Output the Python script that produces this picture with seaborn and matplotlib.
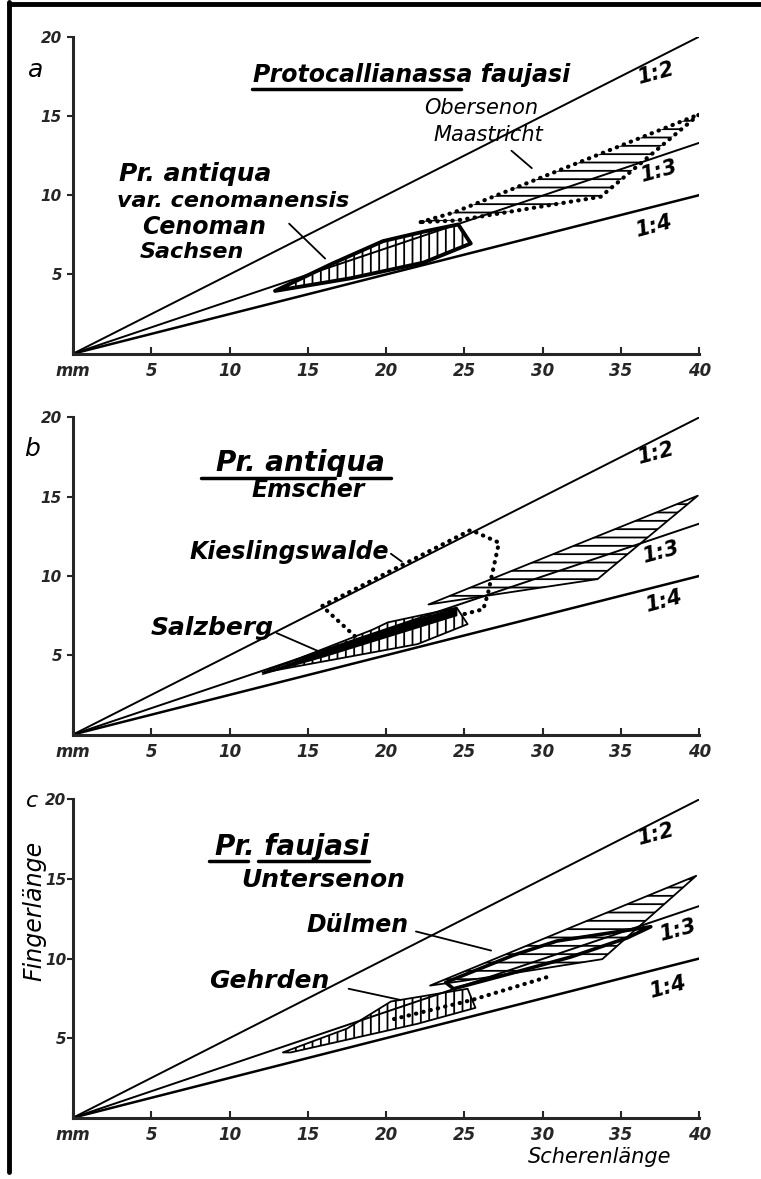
import matplotlib.pyplot as plt
import pandas as pd
import seaborn as sns
from matplotlib.lines import Line2D

sns.set_style('ticks')
plt.rcParams['font.family'] = ['DejaVu Sans']
plt.rcParams['hatch.linewidth'] = 1.3

# ratio lines (Fingerlaenge : Scherenlaenge), end points
ratio_names = ['1:2', '1:3', '1:4']
ratio_x = [0, 40]
ratio_y = {'1:2': [0, 20], '1:3': [0, 13.3], '1:4': [0, 10]}

xtick_vals = [0, 5, 10, 15, 20, 25, 30, 35, 40]
xtick_labels = ['mm', '5', '10', '15', '20', '25', '30', '35', '40']
ytick_vals = [5, 10, 15, 20]
ytick_labels = ['5', '10', '15', '20']

# panel a
ceno_x = [12.9, 16.6, 19.8, 22.4, 24.6, 25.4, 22.4, 17.7]
ceno_y = [3.96, 5.7, 7.1, 7.7, 8.15, 6.95, 5.75, 4.75]
maas_x = [22.2, 24.3, 40.0, 33.7, 24.5]
maas_y = [8.3, 8.9, 15.1, 9.9, 8.4]

# panel b
maas_b_x = [22.7, 39.9, 33.5]
maas_b_y = [8.2, 15.06, 9.8]
salz_x = [12.1, 19.1, 20.1, 24.5, 25.2, 22.0]
salz_y = [3.9, 6.6, 7.07, 8.0, 6.96, 5.7]
salz_core_x = [12.1, 16.0, 20.9, 24.5, 24.5, 20.9, 16.0]
salz_core_y = [3.8, 5.3, 6.9, 8.0, 7.5, 6.4, 4.9]
kies_x = [18.0, 15.9, 25.4, 27.2, 26.5, 26.2, 25.0]
kies_y = [6.2, 8.1, 12.9, 12.1, 8.9, 7.9, 7.6]

# panel c
dul_x = [22.8, 39.8, 33.8, 26.0]
dul_y = [8.3, 15.2, 9.96, 8.75]
dul_core_x = [23.8, 28.1, 30.9, 36.9, 35.4, 31.8, 28.1, 24.3]
dul_core_y = [8.5, 10.2, 11.1, 12.0, 11.3, 10.1, 9.1, 8.1]
geh_x = [13.4, 17.5, 20.3, 25.2, 25.7, 22.0, 13.9]
geh_y = [4.1, 5.6, 7.3, 8.1, 6.9, 5.9, 4.1]
geh_dots_x = [20.5, 25.5, 30.5]
geh_dots_y = [6.2, 7.4, 8.9]

DOTS = (0, (0.1, 1.7))
TXT = dict(style='italic', color='black', ha='center', va='center')


def setup(ax, ypad=4):
    ax.set_xlim(0, 40)
    ax.set_ylim(0, 20)
    sns.despine(ax=ax)
    for s in ['left', 'bottom']:
        ax.spines[s].set_linewidth(2.2)
    ax.set_xticks(xtick_vals, xtick_labels)
    ax.set_yticks(ytick_vals, ytick_labels)
    ax.tick_params(axis='x', direction='in', length=5, width=1.5, pad=6,
                   labelsize=12)
    ax.tick_params(axis='y', direction='out', length=4, width=1.5, pad=ypad,
                   labelsize=11)
    for lab in ax.get_xticklabels() + ax.get_yticklabels():
        lab.set_fontstyle('italic')
        lab.set_fontweight('bold')
    ax.set_xlabel('')
    ax.set_ylabel('')
    for r in ratio_names:
        sns.lineplot(x=ratio_x, y=ratio_y[r], color='black',
                     lw=1.8 if r == '1:4' else 1.4, ax=ax, legend=False)


def area(ax, xs, ys, hatch, ls='-', lw=1.2, face='none'):
    ax.fill(xs, ys, facecolor=face, edgecolor='black', hatch=hatch,
            linestyle=ls, linewidth=lw, capstyle='round', joinstyle='round')


def label(ax, txt, x, y, size, weight='bold', **kw):
    ax.text(x, y, txt, fontsize=size, fontweight=weight, clip_on=False,
            **TXT, **kw)


def pointer(ax, xs, ys):
    ax.plot(xs, ys, color='black', lw=1.3)


fig = plt.figure(figsize=(7.61, 11.79), dpi=100)
ax_a = fig.add_axes([0.096, 0.700, 0.823, 0.269])
ax_b = fig.add_axes([0.096, 0.377, 0.823, 0.269])
ax_c = fig.add_axes([0.096, 0.052, 0.823, 0.270])

ratio_pos = {
    ax_a: [(37.2, 17.7), (37.4, 11.5), (37.1, 8.0)],
    ax_b: [(37.2, 17.7), (37.5, 11.5), (37.7, 8.4)],
    ax_c: [(37.2, 17.8), (38.6, 11.8), (38.0, 8.2)],
}

for ax in (ax_a, ax_b, ax_c):
    setup(ax, ypad=1 if ax is ax_c else 4)
    for r, (px, py) in zip(ratio_names, ratio_pos[ax]):
        label(ax, r, px, py, 15, rotation=15)

# --- a ---
area(ax_a, maas_x, maas_y, '--', ls=DOTS, lw=3.0)
area(ax_a, ceno_x, ceno_y, '||', lw=2.8)
label(ax_a, 'a', -2.4, 17.9, 18, weight='normal')
label(ax_a, 'Protocallianassa faujasi', 21.6, 17.6, 17)
ax_a.plot([11.4, 24.8], [16.7, 16.7], color='black', lw=2.5)
label(ax_a, 'Obersenon', 26.1, 15.5, 15, weight='normal')
label(ax_a, 'Maastricht', 26.5, 13.8, 15, weight='normal')
pointer(ax_a, [28.0, 29.3], [12.8, 11.7])
label(ax_a, 'Pr. antiqua', 7.8, 11.35, 18)
label(ax_a, 'var. cenomanensis', 10.2, 9.6, 16)
label(ax_a, 'Cenoman', 8.4, 8.0, 17)
label(ax_a, 'Sachsen', 7.6, 6.4, 16)
pointer(ax_a, [13.8, 16.1], [8.2, 6.0])

# --- b ---
area(ax_b, maas_b_x, maas_b_y, '--', lw=1.3)
area(ax_b, salz_x, salz_y, '||', lw=1.3)
area(ax_b, salz_core_x, salz_core_y, None, lw=1.0, face='black')
ax_b.plot(kies_x, kies_y, color='black', lw=3.0, ls=DOTS,
          dash_capstyle='round')
label(ax_b, 'b', -2.65, 18.0, 18, weight='normal')
label(ax_b, 'Pr. antiqua', 14.5, 17.1, 20)
ax_b.plot([8.2, 16.7], [16.2, 16.2], color='black', lw=2.5)
ax_b.plot([17.7, 20.3], [16.2, 16.2], color='black', lw=2.5)
label(ax_b, 'Emscher', 15.0, 15.4, 17)
label(ax_b, 'Kieslingswalde', 13.8, 11.5, 17)
pointer(ax_b, [20.3, 21.0], [11.4, 10.9])
label(ax_b, 'Salzberg', 8.9, 6.7, 18)
pointer(ax_b, [13.0, 15.8], [6.4, 5.2])

# --- c ---
area(ax_c, dul_x, dul_y, '--', lw=1.3)
area(ax_c, dul_core_x, dul_core_y, None, lw=2.6)
area(ax_c, geh_x, geh_y, '||', lw=1.3)
ax_c.plot(geh_dots_x, geh_dots_y, color='black', lw=3.0, ls=DOTS,
          dash_capstyle='round')
label(ax_c, 'c', -2.6, 19.9, 16, weight='normal')
label(ax_c, 'Pr. faujasi', 14.0, 17.0, 20)
ax_c.plot([8.7, 11.2], [16.1, 16.1], color='black', lw=2.5)
ax_c.plot([11.8, 18.9], [16.1, 16.1], color='black', lw=2.5)
label(ax_c, 'Untersenon', 16.0, 14.95, 18)
label(ax_c, 'Dülmen', 18.2, 12.1, 17)
pointer(ax_c, [21.9, 26.7], [11.7, 10.5])
label(ax_c, 'Gehrden', 12.5, 8.6, 18)
pointer(ax_c, [17.6, 20.9], [8.1, 7.4])
label(ax_c, 'Scherenlänge', 33.6, -2.45, 15, weight='normal')
label(ax_c, 'Fingerlänge', -2.45, 13.0, 17, weight='normal', rotation=90)

# scan frame
fig.add_artist(Line2D([0.012, 0.012], [0.006, 0.998], color='black', lw=3.5,
                      transform=fig.transFigure))
fig.add_artist(Line2D([0.012, 1.0], [0.997, 0.997], color='black', lw=3.5,
                      transform=fig.transFigure))

plt.savefig('out.png', dpi=100)
